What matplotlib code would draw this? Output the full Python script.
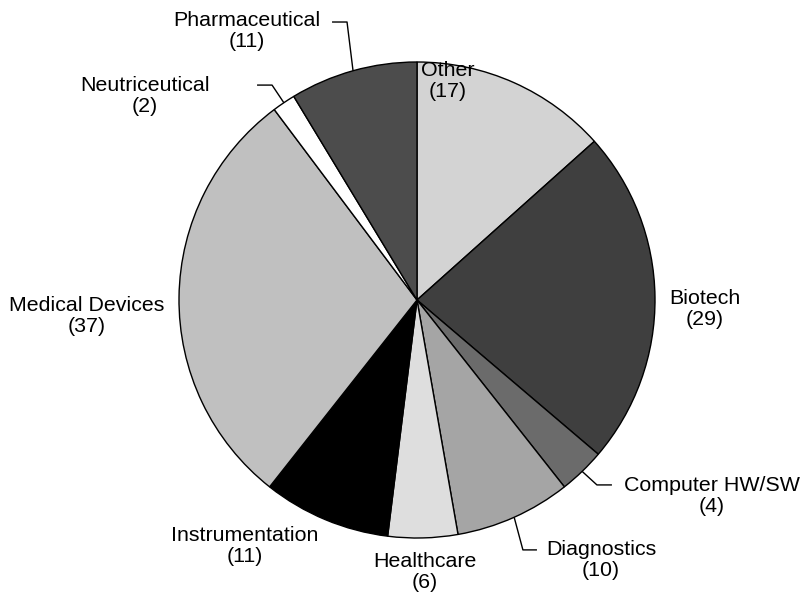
import numpy as np
import matplotlib.pyplot as plt

plt.rcParams['font.family'] = ['Liberation Sans', 'DejaVu Sans']

# industry breakdown, clockwise from 12 o'clock
sectors = ['Other', 'Biotech', 'Computer HW/SW', 'Diagnostics', 'Healthcare',
           'Instrumentation', 'Medical Devices', 'Neutriceutical', 'Pharmaceutical']
counts = [17, 29, 4, 10, 6, 11, 37, 2, 11]
shades = ['#d3d3d3', '#3f3f3f', '#6b6b6b', '#a5a5a5', '#dedede',
          '#000000', '#c0c0c0', '#ffffff', '#4c4c4c']

# label centres (pie radius = 1)
label_pos = {
    'Other': (0.130, 0.920),
    'Biotech': (1.210, -0.038),
    'Computer HW/SW': (1.239, -0.824),
    'Diagnostics': (0.773, -1.092),
    'Healthcare': (0.034, -1.143),
    'Instrumentation': (-0.723, -1.034),
    'Medical Devices': (-1.387, -0.066),
    'Neutriceutical': (-1.143, 0.857),
    'Pharmaceutical': (-0.714, 1.130),
}
# leader lines: start near the text, elbow, then into the wedge middle on the rim
leaders = {
    'Pharmaceutical': [(-0.357, 1.168), (-0.294, 1.168)],
    'Neutriceutical': [(-0.672, 0.903), (-0.609, 0.903)],
    'Computer HW/SW': [(0.819, -0.777), (0.756, -0.777)],
    'Diagnostics': [(0.504, -1.050), (0.445, -1.050)],
}

fig = plt.figure(figsize=(8.02, 5.99), dpi=100)
ax = fig.add_axes([0, 0, 1, 1])

wedges, _ = ax.pie(counts, colors=shades, startangle=90, counterclock=False,
                   radius=1.0, center=(0, 0),
                   wedgeprops=dict(edgecolor='black', linewidth=1.0))

for w, name, n in zip(wedges, sectors, counts):
    x, y = label_pos[name]
    ax.text(x, y, f'{name}\n({n})', ha='center', va='center',
            fontsize=15.4, linespacing=1.12)
    if name in leaders:
        mid = np.deg2rad((w.theta1 + w.theta2) / 2)
        pts = leaders[name] + [(np.cos(mid), np.sin(mid))]
        xs, ys = zip(*pts)
        ax.plot(xs, ys, color='black', lw=1.0, solid_capstyle='butt')

ax.set_xlim(-417 / 238, (802 - 417) / 238)
ax.set_ylim((300 - 599) / 238, 300 / 238)
ax.set_aspect('equal')
ax.axis('off')

fig.savefig('out.png', dpi=100)
